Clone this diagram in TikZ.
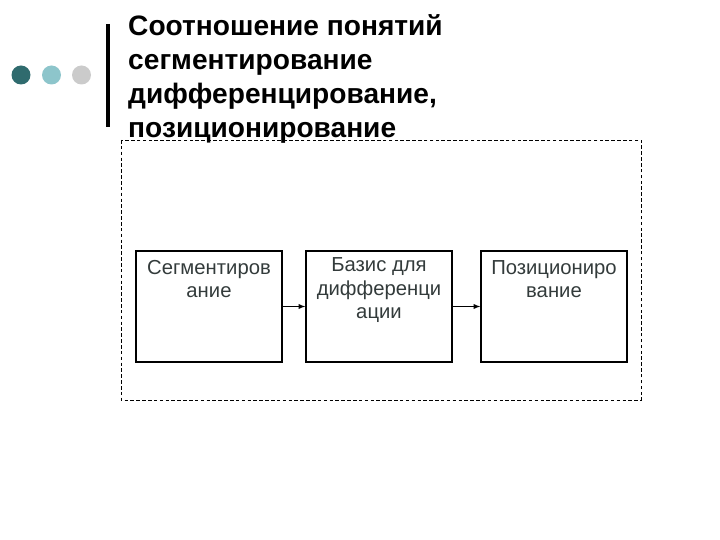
\documentclass[tikz,border=0pt]{standalone}
\usepackage{fontspec}
\setmainfont{Liberation Sans}
\definecolor{dotdark}{HTML}{2F6B6E}
\definecolor{dotlight}{HTML}{8DC5CB}
\definecolor{dotgray}{HTML}{CBCBCB}
\definecolor{boxtext}{HTML}{333B3B}
\begin{document}
\begin{tikzpicture}[x=0.03cm,y=-0.03cm,
            blok/.style={rectangle,draw,line width=1.1pt,minimum width=4.38cm,minimum height=3.33cm,inner sep=0pt},
            lbl/.style={align=center,text=boxtext,font=\fontsize{17.3}{20}\selectfont,inner sep=0pt,anchor=north},
            every path/.style={>=latex}]
            \useasboundingbox (0,0) rectangle (720,540);
            % decoration
            \fill[dotdark] (21,75) circle (9.5);
            \fill[dotlight] (51.5,75) circle (9.5);
            \fill[dotgray] (81.5,75) circle (9.5);
            \draw[line width=2.6pt] (108,24) -- (108,127);
            \node[anchor=north west,align=left,inner sep=0pt,font=\fontsize{24}{29}\selectfont\bfseries] (T) at (128,14)
              {Соотношение понятий\\сегментирование\\дифференцирование,\\позиционирование};
            % frame
            \draw[dash pattern=on 3pt off 2pt,line width=0.8pt] (121,140) rectangle (641,400);
            \node[blok] (S) at (209,306.5) {};
            \node[blok] (B) at (379,306.5) {};
            \node[blok] (P) at (554,306.5) {};
            \node[lbl] (St) at (209,260) {Сегментиров\\ание};
            \node[lbl] (Bt) at (379,257.5) {Базис для\\дифференци\\ации};
            \node[lbl] (Pt) at (554,260) {Позициониро\\вание};
            \draw[->,line width=1pt] (S) -- (B);
            \draw[->,line width=1pt] (B) -- (P);
          \end{tikzpicture}
\end{document}
